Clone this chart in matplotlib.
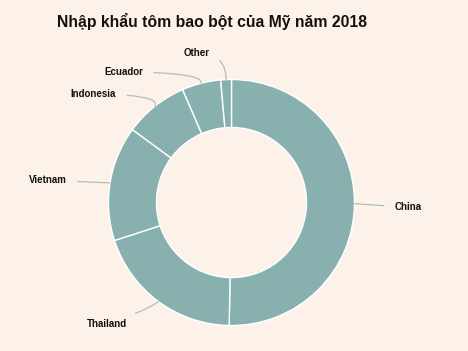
import matplotlib.pyplot as plt
import numpy as np

# du lieu: thi phan nhap khau (%)
countries = ['China', 'Thailand', 'Vietnam', 'Indonesia', 'Ecuador', 'Other']
shares = [50.3, 19.7, 15.1, 8.4, 5.1, 1.4]

bg = '#fcf2e9'
slice_color = '#88b0af'
line_color = '#aebfbb'

plt.rcParams['font.family'] = ['Liberation Sans', 'DejaVu Sans']

fig = plt.figure(figsize=(4.68, 3.51), dpi=100, facecolor=bg)
ax = fig.add_axes([0, 0, 1, 1])
ax.set_facecolor(bg)

wedges, _ = ax.pie(shares, startangle=90, counterclock=False, radius=1.0,
                   colors=[slice_color] * len(shares),
                   wedgeprops=dict(width=0.39, edgecolor='white', linewidth=1.0))

ax.set_xlim(-1.882, 1.923)
ax.set_ylim(-1.207, 1.646)
ax.set_aspect('auto')
ax.axis('off')

# vi tri nhan va kieu duong noi
label_pos = {
    'China': ((1.33, -0.04), 'left', 'arc3,rad=0'),
    'Thailand': ((-0.85, -0.99), 'right', 'angle3,angleA=20,angleB=60'),
    'Vietnam': ((-1.34, 0.18), 'right', 'arc3,rad=0'),
    'Indonesia': ((-0.94, 0.88), 'right', 'angle3,angleA=0,angleB=60'),
    'Ecuador': ((-0.72, 1.06), 'right', 'angle3,angleA=0,angleB=80'),
    'Other': ((-0.28, 1.215), 'center', 'angle3,angleA=0,angleB=90'),
}

for w, name in zip(wedges, countries):
    ang = np.deg2rad((w.theta1 + w.theta2) / 2)
    xy = (np.cos(ang), np.sin(ang))
    pos, ha, cs = label_pos[name]
    ax.annotate(name, xy=xy, xytext=pos, ha=ha, va='center',
                fontsize=7, fontweight='bold', color='#111111',
                arrowprops=dict(arrowstyle='-', color=line_color, lw=0.9,
                                connectionstyle=cs, shrinkA=6, shrinkB=0))

fig.text(57 / 468, 1 - 22 / 351, 'Nhập khẩu tôm bao bột của Mỹ năm 2018',
         ha='left', va='center', fontsize=11.3, fontweight='bold', color='#111111')

fig.savefig('out.png', dpi=100, facecolor=bg)
